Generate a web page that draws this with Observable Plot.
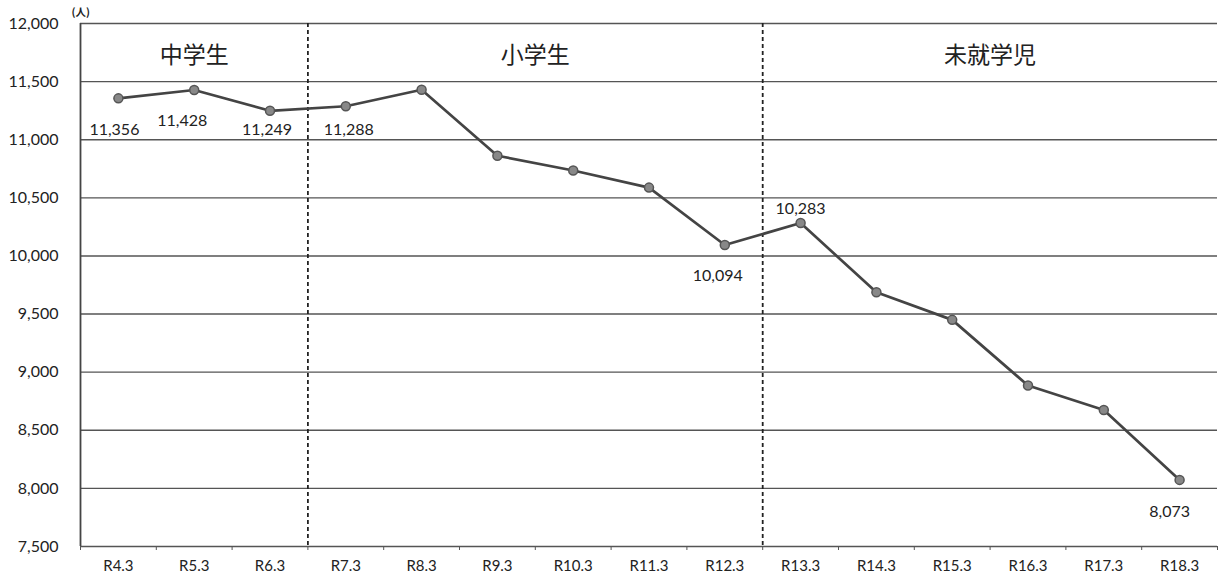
<!DOCTYPE html>
<html>
<head>
<meta charset="utf-8">
<script src="https://cdn.jsdelivr.net/npm/d3@7"></script>
<script src="https://cdn.jsdelivr.net/npm/@observablehq/plot@0.6"></script>
<style>
  html, body { margin: 0; padding: 0; background: #fff; }
  #chart svg { display: block; }
</style>
</head>
<body>
<div id="chart"></div>
<script>
// ---- data ----
const categories = ["R4.3","R5.3","R6.3","R7.3","R8.3","R9.3","R10.3","R11.3","R12.3","R13.3","R14.3","R15.3","R16.3","R17.3","R18.3"];
const values = [11356, 11428, 11249, 11288, 11430, 10862, 10735, 10588, 10094, 10283, 9688, 9450, 8885, 8675, 8073];
const yTicks = [7500, 8000, 8500, 9000, 9500, 10000, 10500, 11000, 11500, 12000];
const sectionNames = ["中学生", "小学生", "未就学児"];
const sectionFirst = ["R4.3", "R7.3", "R13.3"];
const sectionLast = ["R6.3", "R12.3", "R18.3"];
const labelled = ["R4.3", "R5.3", "R6.3", "R7.3", "R12.3", "R13.3", "R18.3"];
const unitLabel = "(人)";

// ---- label placement (style) ----
const labelOffset = {
  "R4.3": [-4, 32], "R5.3": [-12, 31], "R6.3": [-3, 19], "R7.3": [3, 24],
  "R12.3": [-7, 31], "R13.3": [0, -14], "R18.3": [-10, 32]
};

// ---- derived tables ----
const rows = categories.map((c, i) => ({i, cat: c, value: values[i]}));
const idx = c => categories.indexOf(c);
const sections = sectionNames.map((name, k) => ({
  name,
  start: idx(sectionFirst[k]) - 0.5,
  end: idx(sectionLast[k]) + 0.5
}));
const dividers = sections.slice(1).map(s => s.start);
const bandEdges = categories.map((c, i) => i - 0.5).concat([categories.length - 0.5]);
const fmt = d3.format(",");
const yMin = yTicks[0], yMax = yTicks[yTicks.length - 1];

const labelMarks = rows.filter(d => labelled.includes(d.cat)).map(d =>
  Plot.text([d], {x: "i", y: "value", text: r => fmt(r.value),
    dx: labelOffset[d.cat][0], dy: labelOffset[d.cat][1], fontSize: 16, fill: "#222"})
);

const chart = Plot.plot({
  width: 1222,
  height: 583,
  marginLeft: 80,
  marginRight: 5,
  marginTop: 23,
  marginBottom: 37,
  style: {fontFamily: "Lato, 'Noto Sans CJK JP', sans-serif", fontSize: "15px", color: "#222", background: "#fff"},
  x: {type: "linear", domain: [-0.5, categories.length - 0.5]},
  y: {domain: [yMin, yMax]},
  marks: [
    Plot.gridY(yTicks, {stroke: "#555", strokeOpacity: 1, strokeWidth: 1.4}),
    Plot.ruleX([-0.5], {stroke: "#444", strokeWidth: 1.8}),
    Plot.ruleX(dividers, {stroke: "#222", strokeWidth: 1.8, strokeDasharray: "4,3"}),
    Plot.axisY({ticks: yTicks, tickSize: 0, tickPadding: 22, tickFormat: fmt, label: null, fontSize: 16}),
    Plot.axisX({ticks: rows.map(d => d.i), tickSize: 0, tickPadding: 14, tickFormat: i => categories[i], label: null, fontSize: 15}),
    Plot.axisX({ticks: bandEdges, tickSize: 4, tickFormat: () => "", label: null, stroke: "#555"}),
    Plot.line(rows, {x: "i", y: "value", stroke: "#444", strokeWidth: 2.7}),
    Plot.dot(rows, {x: "i", y: "value", r: 4.5, fill: "#888", stroke: "#555", strokeWidth: 1.5}),
    ...labelMarks,
    Plot.text(sections, {x: d => (d.start + d.end) / 2, y: yMax, text: "name", dy: 32, fontSize: 23, fill: "#222", fontFamily: "'Noto Sans CJK JP', sans-serif", style: "letter-spacing: 2px"}),
    Plot.text([unitLabel], {x: -0.5, y: yMax, text: d => d, dy: -11, dx: -9, textAnchor: "start", fontSize: 10.5, fontWeight: "bold", fill: "#222", fontFamily: "'Noto Sans CJK JP', sans-serif"})
  ]
});
document.getElementById("chart").appendChild(chart);
</script>
</body>
</html>
